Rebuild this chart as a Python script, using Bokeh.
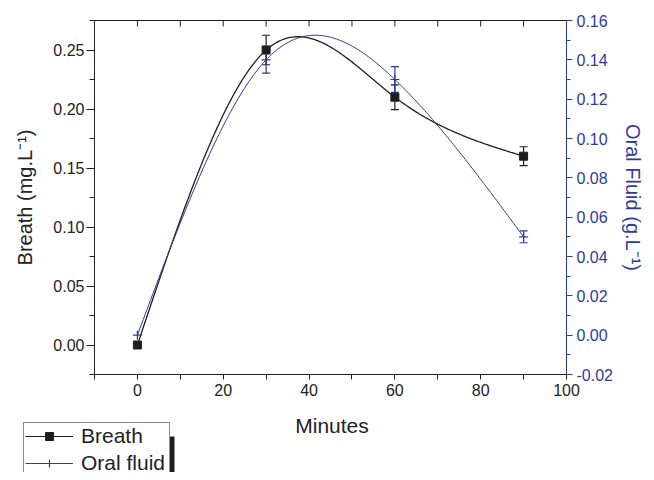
import numpy as np
from bokeh.plotting import figure
from bokeh.layouts import column
from bokeh.models import (Range1d, LinearAxis, FixedTicker, NumeralTickFormatter,
                          ColumnDataSource, Whisker, TeeHead, Legend, LegendItem, Label,
                          BoxAnnotation)
from bokeh.embed import file_html
from bokeh.resources import INLINE

# ---- data ----
minutes = [0, 30, 60, 90]
breath = [0.0, 0.25, 0.21, 0.16]
breath_err = [0.0, 0.0125, 0.0105, 0.008]
oral = [0.0, 0.14, 0.13, 0.05]
oral_err = [0.0, 0.0068, 0.0065, 0.003]

x_major = [0, 20, 40, 60, 80, 100]
x_minor = [-10, 10, 30, 50, 70, 90]
breath_major = [0.0, 0.05, 0.10, 0.15, 0.20, 0.25]
breath_minor = [-0.025, 0.025, 0.075, 0.125, 0.175, 0.225, 0.275]
oral_major = [-0.02, 0.0, 0.02, 0.04, 0.06, 0.08, 0.10, 0.12, 0.14, 0.16]
oral_minor = [-0.01, 0.01, 0.03, 0.05, 0.07, 0.09, 0.11, 0.13, 0.15]

x_label = "Minutes"
breath_label = "Breath (mg.L\u207b\u00b9)"
oral_label = "Oral Fluid (g.L\u207b\u00b9)"
series_names = ["Breath", "Oral fluid"]

BLACK = "#1e1e1e"
BLUE = "#2e3a9c"
TXT = "#222222"
FONT = "Liberation Sans"


def natural_spline(xs, ys, n=200):
    xs = np.asarray(xs, float)
    ys = np.asarray(ys, float)
    k = len(xs)
    h = np.diff(xs)
    A = np.zeros((k, k))
    r = np.zeros(k)
    A[0, 0] = 1
    A[-1, -1] = 1
    for i in range(1, k - 1):
        A[i, i - 1] = h[i - 1]
        A[i, i] = 2 * (h[i - 1] + h[i])
        A[i, i + 1] = h[i]
        r[i] = 6 * ((ys[i + 1] - ys[i]) / h[i] - (ys[i] - ys[i - 1]) / h[i - 1])
    M = np.linalg.solve(A, r)
    xq = np.linspace(xs[0], xs[-1], n)
    yq = np.empty_like(xq)
    for j, x in enumerate(xq):
        i = min(np.searchsorted(xs, x, side="right") - 1, k - 2)
        t0 = xs[i + 1] - x
        t1 = x - xs[i]
        hi = h[i]
        yq[j] = (M[i] * t0 ** 3 / (6 * hi) + M[i + 1] * t1 ** 3 / (6 * hi)
                 + (ys[i] / hi - M[i] * hi / 6) * t0
                 + (ys[i + 1] / hi - M[i + 1] * hi / 6) * t1)
    return xq, yq


W = 646
H_MAIN = 404
H_LEG = 68

xr = Range1d(-10, 100)
yr = Range1d(-0.025, 0.275)
p = figure(width=W, height=H_MAIN, x_range=xr, y_range=yr, output_backend="svg",
           toolbar_location=None, min_border_left=94, min_border_right=77,
           min_border_top=20, min_border_bottom=30)
p.frame_align = False
p.extra_y_ranges = {"oral": Range1d(-0.02, 0.16)}
p.xgrid.visible = False
p.ygrid.visible = False
p.outline_line_color = BLACK
p.outline_line_width = 1
p.background_fill_color = "white"
p.border_fill_color = "white"

# bottom axis
xa = p.xaxis[0]
xa.ticker = FixedTicker(ticks=x_major, minor_ticks=x_minor)
xa.major_label_text_font = FONT
xa.major_label_text_font_size = "16px"
xa.major_label_text_color = TXT
xa.major_label_standoff = 4
xa.major_tick_in = 0
xa.major_tick_out = 5
xa.minor_tick_in = 0
xa.minor_tick_out = 5
xa.axis_line_color = BLACK
xa.major_tick_line_color = BLACK
xa.minor_tick_line_color = BLACK

# left axis
ya = p.yaxis[0]
ya.ticker = FixedTicker(ticks=breath_major, minor_ticks=breath_minor)
ya.formatter = NumeralTickFormatter(format="0.00")
ya.axis_label = breath_label
ya.axis_label_text_font = FONT
ya.axis_label_text_font_size = "20px"
ya.axis_label_text_font_style = "normal"
ya.axis_label_text_color = TXT
ya.axis_label_standoff = 14
ya.major_label_text_font = FONT
ya.major_label_text_font_size = "16px"
ya.major_label_text_color = TXT
ya.major_label_standoff = 2
ya.major_tick_in = 0
ya.major_tick_out = 8
ya.minor_tick_in = 0
ya.minor_tick_out = 5
ya.axis_line_color = BLACK
ya.major_tick_line_color = BLACK
ya.minor_tick_line_color = BLACK

# right axis
ra = LinearAxis(y_range_name="oral",
                ticker=FixedTicker(ticks=oral_major, minor_ticks=oral_minor),
                formatter=NumeralTickFormatter(format="0.00"))
ra.axis_label = oral_label
ra.axis_label_text_font = FONT
ra.axis_label_text_font_size = "20px"
ra.axis_label_text_font_style = "normal"
ra.axis_label_text_color = BLUE
ra.axis_label_standoff = 6
ra.major_label_text_font = FONT
ra.major_label_text_font_size = "16px"
ra.major_label_text_color = BLUE
ra.major_label_standoff = 4
ra.major_tick_in = 0
ra.major_tick_out = 6
ra.minor_tick_in = 0
ra.minor_tick_out = 4
ra.axis_line_color = BLUE
ra.major_tick_line_color = BLUE
ra.minor_tick_line_color = BLUE
p.add_layout(ra, "right")

# inward ticks along the top edge (at the x tick positions)
top_ticks = x_major + x_minor
p.scatter(top_ticks, [yr.end] * len(top_ticks), marker="dash", angle=np.pi / 2,
          size=12, line_color=BLACK, line_width=1)

# curves
bx, by = natural_spline(minutes, breath)
ox, oy = natural_spline(minutes, oral)
p.line(bx, by, line_color=BLACK, line_width=1.3)
p.line(ox, oy, line_color=BLUE, line_width=1.0, y_range_name="oral")

# error bars
bsel = [i for i, e in enumerate(breath_err) if e > 0]
src_b = ColumnDataSource(dict(x=[minutes[i] for i in bsel],
                              upper=[breath[i] + breath_err[i] for i in bsel],
                              lower=[breath[i] - breath_err[i] for i in bsel]))
p.add_layout(Whisker(source=src_b, base="x", upper="upper", lower="lower",
                     line_color=BLACK, line_width=1.2,
                     upper_head=TeeHead(size=8, line_color=BLACK, line_width=1.2),
                     lower_head=TeeHead(size=8, line_color=BLACK, line_width=1.2)))
osel = [i for i, e in enumerate(oral_err) if e > 0]
src_o = ColumnDataSource(dict(x=[minutes[i] for i in osel],
                              upper=[oral[i] + oral_err[i] for i in osel],
                              lower=[oral[i] - oral_err[i] for i in osel]))
p.add_layout(Whisker(source=src_o, base="x", upper="upper", lower="lower",
                     y_range_name="oral", line_color=BLUE, line_width=1.2,
                     upper_head=TeeHead(size=8, line_color=BLUE, line_width=1.2),
                     lower_head=TeeHead(size=8, line_color=BLUE, line_width=1.2)))

# markers
p.scatter(minutes, breath, marker="square", size=8, fill_color=BLACK,
          line_color=BLACK)
p.scatter(minutes, oral, marker="cross", size=9, line_color=BLUE,
          line_width=1.2, y_range_name="oral")

# ---- lower strip: x-axis title + legend (pixel coordinates) ----
q = figure(width=W, height=H_LEG, x_range=Range1d(0, W), y_range=Range1d(0, H_LEG),
           output_backend="svg", toolbar_location=None, min_border=0,
           x_axis_location=None, y_axis_location=None)
q.frame_align = False
q.grid.visible = False
q.outline_line_color = None
q.background_fill_color = "white"
q.border_fill_color = "white"

q.add_layout(Label(x=(94 + 569) / 2, y=H_LEG - 21, text=x_label,
                   text_font=FONT, text_font_size="21px", text_color=TXT,
                   text_align="center", text_baseline="middle"))

# legend drop shadow on the right edge of the legend box
q.add_layout(BoxAnnotation(left=168, right=174, top=H_LEG - 32, bottom=-10,
                           fill_color=BLACK, fill_alpha=1.0, line_color=None))

nan_src = dict(x=[np.nan], y=[np.nan])
lb = q.line("x", "y", source=ColumnDataSource(nan_src), line_color=BLACK, line_width=1.2)
sb = q.scatter("x", "y", source=ColumnDataSource(nan_src), marker="square",
               fill_color=BLACK, line_color=BLACK)
lo = q.line("x", "y", source=ColumnDataSource(nan_src), line_color=BLUE, line_width=1.0)
so = q.scatter("x", "y", source=ColumnDataSource(nan_src), marker="cross",
               line_color=BLUE, line_width=1.2)

legend = Legend(items=[LegendItem(label=series_names[0], renderers=[lb, sb]),
                       LegendItem(label=series_names[1], renderers=[lo, so])],
                location=(23, -5), margin=0, padding=1, spacing=3,
                glyph_width=48, glyph_height=20, label_height=20, label_width=87,
                label_standoff=8, label_text_font=FONT,
                label_text_font_size="21px", label_text_color=TXT,
                background_fill_color="white", background_fill_alpha=1.0,
                border_line_color=BLACK, border_line_width=1)
q.add_layout(legend)

layout = column(p, q, spacing=0)
open("out.html", "w").write(file_html(layout, INLINE))
